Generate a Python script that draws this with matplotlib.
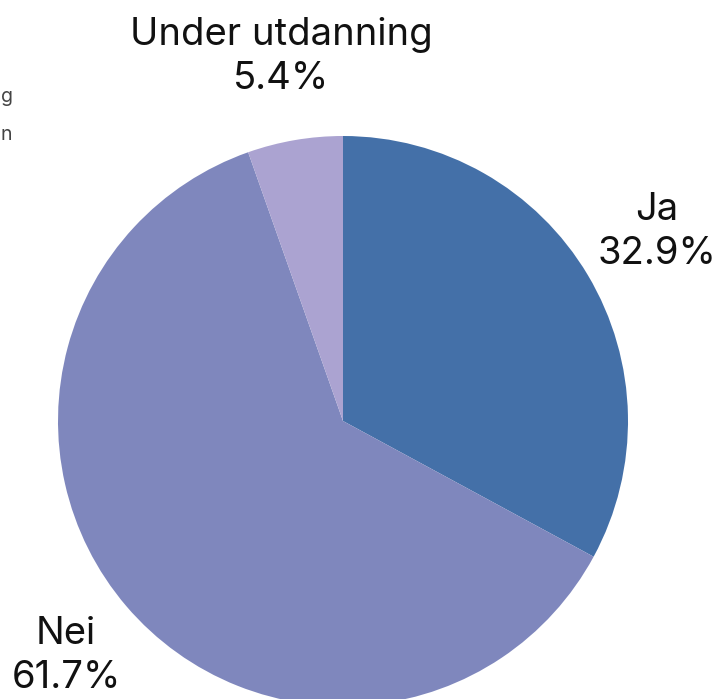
import matplotlib
matplotlib.use("Agg")
import matplotlib.pyplot as plt

categories = ["Ja", "Nei", "Under utdanning"]
values = [32.9, 61.7, 5.4]
colors = ["#4470a8", "#7f87bd", "#aba3d1"]

W, H = 718, 699
fig = plt.figure(figsize=(W/100, H/100), dpi=100)
ax = fig.add_axes([0, 0, 1, 1])

cx, cy, r = 343, H - 421, 285
ax.pie(values, colors=colors, startangle=90, counterclock=False,
       center=(cx, cy), radius=r, frame=True,
       wedgeprops=dict(linewidth=0))
ax.set_xlim(0, W)
ax.set_ylim(0, H)
ax.set_aspect("equal")
ax.axis("off")

label_pos = [(657, H - 232), (66, H - 656), (281, H - 57)]
for cat, v, (x, y) in zip(categories, values, label_pos):
    ax.text(x, y, f"{cat}\n{v:.1f}%", ha="center", va="center",
            fontsize=27.5, family="Inter", linespacing=1.3, color="#111111")

ax.text(1, H - 97, "g", ha="left", va="center", fontsize=14, color="#444444", family="Inter")
ax.text(1, H - 135, "n", ha="left", va="center", fontsize=14, color="#444444", family="Inter")

fig.savefig("out.png", dpi=100)
